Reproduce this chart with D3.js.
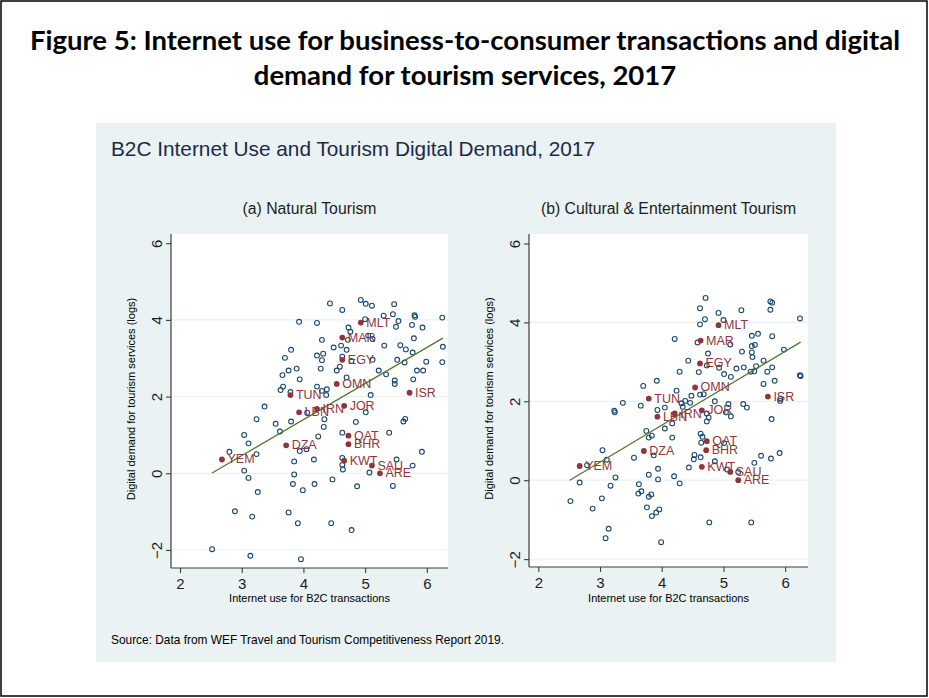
<!DOCTYPE html>
<html><head><meta charset="utf-8">
<script src="https://cdn.jsdelivr.net/npm/d3@7/dist/d3.min.js"></script>
<style>body{margin:0;background:#fff}svg{display:block}</style>
</head><body>
<svg id="c" width="929" height="698"></svg>
<script>
// ---------------- DATA ----------------
const figureTitle = ["Figure 5: Internet use for business-to-consumer transactions and digital",
                     "demand for tourism services, 2017"];
const chartTitle = "B2C Internet Use and Tourism Digital Demand, 2017";
const panelTitles = ["(a) Natural Tourism", "(b) Cultural & Entertainment Tourism"];
const xTicks = [2, 3, 4, 5, 6];
const yTicks = [-2, 0, 2, 4, 6];
const xTitle = "Internet use for B2C transactions";
const yTitle = "Digital demand for tourism services (logs)";
const sourceNote = "Source: Data from WEF Travel and Tourism Competitiveness Report 2019.";

// (a) Natural tourism: other countries
const naturalX = [4.43,4.63,4.93,5.01,5.11,5.47,5.30,5.45,5.80,5.81,5.54,5.50,5.76,5.93,6.25,3.93,4.22,5.00,4.73,4.76,
  5.05,5.12,4.72,4.30,5.79,3.80,3.70,4.22,4.32,4.30,4.49,4.61,4.70,4.63,4.78,5.12,5.31,5.57,5.66,5.77,
  6.26,5.52,5.64,5.99,6.25,3.89,3.76,3.66,4.28,4.54,4.59,5.22,5.34,5.84,5.94,3.94,4.70,5.48,5.48,5.78,
  3.67,3.63,4.22,4.30,4.38,4.37,5.09,3.79,3.37,3.24,3.55,3.62,3.80,4.06,4.34,4.33,4.24,5.01,4.85,4.63,
  5.39,5.65,5.62,3.04,3.11,2.80,3.24,3.94,4.05,3.85,4.17,4.63,4.63,4.64,5.51,5.92,5.77,5.07,3.04,3.85,
  3.11,3.83,3.99,4.18,4.47,4.87,5.45,3.26,2.89,3.17,3.76,3.91,4.45,4.78,2.52,3.14,3.96];
const naturalY = [4.43,4.26,4.52,4.42,4.37,4.41,4.11,4.15,4.12,4.08,3.97,3.82,3.87,3.80,4.06,3.95,3.92,4.02,3.80,3.69,
  3.59,3.50,3.48,3.48,3.52,3.22,3.01,3.07,3.12,2.95,3.28,3.33,3.22,3.04,2.93,2.96,3.33,3.34,3.23,3.15,
  3.30,2.96,2.89,2.91,2.90,2.73,2.68,2.56,2.73,2.68,2.78,2.68,2.58,2.68,2.68,2.45,2.50,2.42,2.33,2.45,
  2.26,2.17,2.26,2.15,2.19,2.04,2.04,2.12,1.74,1.41,1.29,1.09,1.35,1.58,1.41,1.21,0.96,1.59,1.34,1.06,
  1.06,1.42,1.35,1.00,0.78,0.56,0.50,0.58,0.63,0.31,0.36,0.40,0.22,0.10,0.36,0.56,0.20,0.02,0.07,-0.03,
  -0.12,-0.28,-0.44,-0.28,-0.16,-0.34,-0.33,-0.49,-0.99,-1.13,-1.02,-1.30,-1.30,-1.48,-1.98,-2.15,-2.24];
// (a) highlighted countries
const naturalCodes = ["MLT","MAR","EGY","OMN","TUN","ISR","JOR","IRN","LBN","QAT","BHR","DZA","YEM","KWT","SAU","ARE"];
const naturalCodeX = [4.93,4.63,4.63,4.54,3.79,5.72,4.66,4.22,3.93,4.73,4.73,3.72,2.68,4.66,5.11,5.24];
const naturalCodeY = [3.93,3.54,2.96,2.33,2.04,2.10,1.76,1.68,1.59,0.98,0.76,0.73,0.36,0.33,0.20,0.00];
const naturalFit = [-2.36, 0.94];   // intercept, slope of linear fit
const naturalFitRange = [2.52, 6.26];

// (b) Cultural & entertainment tourism: other countries
const culturalX = [4.71,4.62,4.92,5.29,5.76,5.79,5.76,6.24,4.70,4.62,5.00,4.21,4.58,5.11,5.46,5.56,5.79,5.46,5.51,5.30,
  5.46,5.47,5.98,4.75,4.43,4.73,4.29,4.60,4.93,5.01,5.12,5.21,5.33,5.44,5.50,5.53,5.65,5.71,5.79,5.83,
  5.65,6.24,6.25,3.92,3.70,4.24,4.48,4.62,4.68,4.86,4.38,4.32,4.34,4.46,5.08,5.32,5.38,5.92,5.92,3.37,
  3.23,3.24,3.66,3.93,4.05,5.04,5.12,4.73,4.76,4.73,5.78,4.05,4.17,3.75,3.79,3.84,4.17,4.63,4.66,4.64,
  5.01,3.04,3.11,3.55,3.87,4.53,4.52,4.63,4.86,5.06,5.24,5.50,5.61,5.77,5.91,4.44,3.94,2.79,3.25,3.79,
  3.94,4.20,4.29,2.67,3.17,3.63,3.62,3.67,3.79,3.83,2.52,3.03,2.88,3.76,3.84,3.91,3.96,4.77,5.45,3.14,
  3.09,3.99];
const culturalY = [4.62,4.36,4.24,4.31,4.53,4.50,4.32,4.10,4.08,3.95,4.06,3.58,3.49,3.44,3.66,3.71,3.65,3.40,3.43,3.26,
  3.24,3.12,3.31,3.21,3.03,2.91,2.75,2.74,2.85,2.69,2.62,2.83,2.86,2.75,2.76,2.89,3.03,2.75,2.86,2.52,
  2.44,2.66,2.64,2.52,2.39,2.27,2.14,2.17,2.18,2.00,2.01,1.95,1.86,1.96,1.93,1.93,1.84,2.06,2.01,1.96,
  1.76,1.72,1.89,1.78,1.84,1.72,1.62,1.69,1.59,1.49,1.55,1.31,1.44,1.25,1.08,1.13,1.08,1.18,1.10,0.95,
  0.94,0.76,0.52,0.57,0.63,0.64,0.53,0.58,0.48,0.27,0.21,0.44,0.62,0.55,0.69,0.32,0.29,0.38,0.07,0.14,
  0.02,0.10,-0.08,-0.06,-0.14,-0.10,-0.34,-0.28,-0.42,-0.36,-0.53,-0.46,-0.72,-0.69,-0.91,-0.82,-0.74,-1.07,-1.07,-1.23,
  -1.47,-1.57];
// (b) highlighted countries
const culturalCodes = ["MLT","MAR","EGY","OMN","TUN","ISR","JOR","IRN","LBN","QAT","BHR","DZA","YEM","KWT","SAU","ARE"];
const culturalCodeX = [4.92,4.63,4.62,4.54,3.79,5.72,4.65,4.21,3.93,4.73,4.72,3.71,2.67,4.65,5.11,5.24];
const culturalCodeY = [3.93,3.54,2.96,2.35,2.07,2.12,1.77,1.69,1.61,0.99,0.76,0.74,0.36,0.34,0.21,0.00];
const culturalFit = [-2.35, 0.936];
const culturalFitRange = [2.51, 6.25];

// ---------------- LAYOUT ----------------
const W = 929, H = 698;
const C = {bg:"#eaf2f3", navy:"#1a476f", maroon:"#90353b", green:"#55752f", axis:"#3c3c3c", text:"#1e1e1e"};
const sans = "'Liberation Sans', Arial, sans-serif";
const svg = d3.select("#c");

svg.append("rect").attr("width", W).attr("height", H).attr("fill", "#fff");
svg.append("rect").attr("x", 1).attr("y", 1).attr("width", W - 3).attr("height", H - 3)
  .attr("fill", "none").attr("stroke", "#000").attr("stroke-width", 1.5);

svg.selectAll("text.ft").data(figureTitle).join("text").attr("class", "ft")
  .attr("x", 465).attr("y", (d, i) => 50 + i * 35).attr("text-anchor", "middle")
  .attr("font-family", "Lato, 'Open Sans', sans-serif").attr("font-weight", 700)
  .attr("font-size", 27.5).attr("fill", "#000").text(d => d);

svg.append("rect").attr("x", 96).attr("y", 123).attr("width", 740).attr("height", 539).attr("fill", C.bg);

svg.append("text").attr("x", 111).attr("y", 156).attr("font-family", sans).attr("font-size", 20.8)
  .attr("fill", "#1c2a48").text(chartTitle);

svg.append("text").attr("x", 111).attr("y", 644).attr("font-family", sans).attr("font-size", 11.9)
  .attr("fill", "#000").text(sourceNote);

const panels = [
  {title: panelTitles[0], xs: naturalX, ys: naturalY, codes: naturalCodes, cx: naturalCodeX, cy: naturalCodeY,
   fit: naturalFit, fr: naturalFitRange, left: 171, right: 448, top: 234, bottom: 568, xd: [1.854, 6.343], yd: [-2.47, 6.24]},
  {title: panelTitles[1], xs: culturalX, ys: culturalY, codes: culturalCodes, cx: culturalCodeX, cy: culturalCodeY,
   fit: culturalFit, fr: culturalFitRange, left: 529, right: 808, top: 234, bottom: 567, xd: [1.849, 6.37], yd: [-2.2, 6.24]}
];

panels.forEach(p => {
  const x = d3.scaleLinear().domain(p.xd).range([p.left, p.right]);
  const y = d3.scaleLinear().domain(p.yd).range([p.bottom, p.top]);
  const g = svg.append("g");
  const mid = (p.left + p.right) / 2;

  g.append("text").attr("x", mid).attr("y", 214).attr("text-anchor", "middle")
    .attr("font-family", sans).attr("font-size", 15.8).attr("fill", C.text).text(p.title);

  g.append("rect").attr("x", p.left).attr("y", p.top).attr("width", p.right - p.left)
    .attr("height", p.bottom - p.top).attr("fill", "#fff");

  // gridlines
  g.selectAll("line.grid").data(yTicks.filter(t => t < 6)).join("line").attr("class", "grid")
    .attr("x1", p.left).attr("x2", p.right).attr("y1", d => y(d)).attr("y2", d => y(d))
    .attr("stroke", C.bg).attr("stroke-width", 1.2);

  // axes
  const ya = g.append("g").attr("transform", `translate(${p.left},0)`)
    .call(d3.axisLeft(y).tickValues(yTicks).tickSize(5).tickPadding(5).tickFormat(d3.format("d")));
  const xa = g.append("g").attr("transform", `translate(0,${p.bottom})`)
    .call(d3.axisBottom(x).tickValues(xTicks).tickSize(5).tickPadding(5).tickFormat(d3.format("d")));
  [ya, xa].forEach(a => {
    a.select(".domain").attr("stroke", C.axis).attr("stroke-width", 1.2);
    a.selectAll(".tick line").attr("stroke", C.axis).attr("stroke-width", 1.1);
    a.selectAll(".tick text").attr("font-family", sans).attr("font-size", 15).attr("fill", C.text);
  });
  ya.select(".domain").attr("d", `M0,${p.top}V${p.bottom}`);
  xa.select(".domain").attr("d", `M${p.left},0H${p.right}`);
  ya.selectAll(".tick text").attr("x", null).attr("dy", null)
    .attr("transform", "translate(-15,0) rotate(-90)").attr("text-anchor", "middle")
    .attr("dominant-baseline", "central");
  xa.selectAll(".tick text").attr("dy", "0.71em");

  g.append("text").attr("transform", `translate(${p.left - 40},${(p.top + p.bottom) / 2 - 2}) rotate(-90)`)
    .attr("text-anchor", "middle").attr("dominant-baseline", "central")
    .attr("font-family", sans).attr("font-size", 11).attr("fill", "#000").text(yTitle);
  g.append("text").attr("x", mid).attr("y", 602).attr("text-anchor", "middle")
    .attr("font-family", sans).attr("font-size", 11).attr("fill", "#000").text(xTitle);

  // hollow markers
  g.selectAll("circle.o").data(d3.range(p.xs.length)).join("circle").attr("class", "o")
    .attr("cx", i => x(p.xs[i])).attr("cy", i => y(p.ys[i])).attr("r", 2.4)
    .attr("fill", "none").attr("stroke", C.navy).attr("stroke-width", 1.1);

  // fit line
  g.append("line").attr("x1", x(p.fr[0])).attr("y1", y(p.fit[0] + p.fit[1] * p.fr[0]))
    .attr("x2", x(p.fr[1])).attr("y2", y(p.fit[0] + p.fit[1] * p.fr[1]))
    .attr("stroke", C.green).attr("stroke-width", 1.3);

  // highlighted
  g.selectAll("circle.f").data(d3.range(p.codes.length)).join("circle").attr("class", "f")
    .attr("cx", i => x(p.cx[i])).attr("cy", i => y(p.cy[i])).attr("r", 2.9).attr("fill", C.maroon);
  g.selectAll("text.lab").data(d3.range(p.codes.length)).join("text").attr("class", "lab")
    .attr("x", i => x(p.cx[i]) + 5.5).attr("y", i => y(p.cy[i])).attr("dominant-baseline", "central")
    .attr("font-family", sans).attr("font-size", 12.5).attr("fill", C.maroon).text(i => p.codes[i]);
});
</script>
</body></html>
